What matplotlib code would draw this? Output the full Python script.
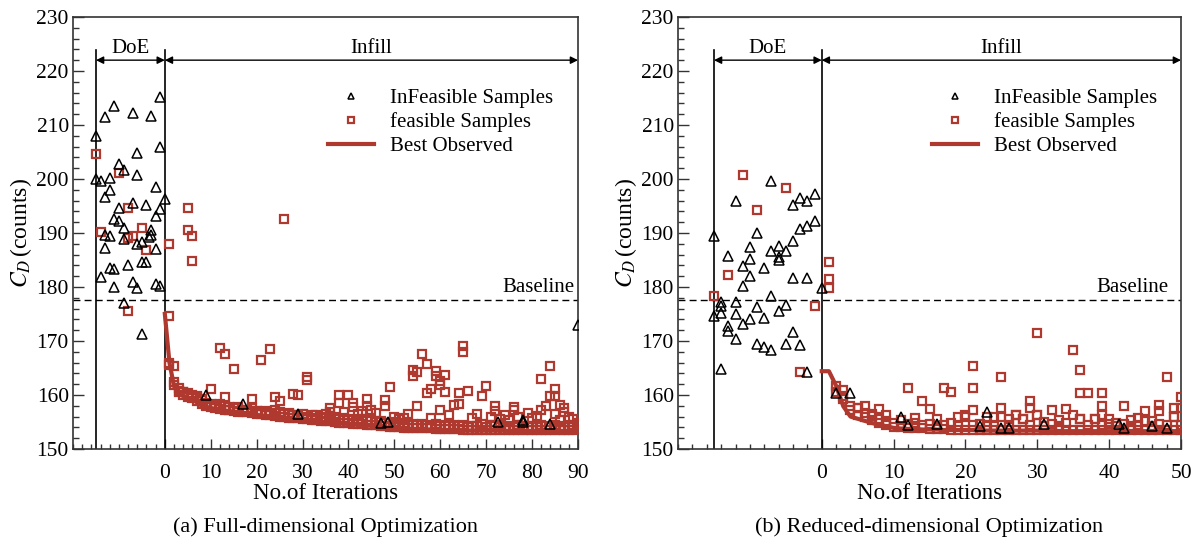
import numpy as np
import matplotlib
matplotlib.use('Agg')
import matplotlib.pyplot as plt
from matplotlib.ticker import MultipleLocator, FixedLocator

plt.rcParams['font.family'] = ['Liberation Serif', 'DejaVu Serif']
plt.rcParams['mathtext.fontset'] = 'stix'

RED = '#b0392f'

# ---------------- (a) full-dimensional ----------------
doe_inf_a_x = [-15, -1, -11, -13, -7, -3, -1, -6, -10, -9, -6, -15, -14, -12, -2, -12, -13, 0,
               -7, -4, -10, -1, -2, -11, -10, -9, -3, -13, -12, -3, -3.4, -9, -5, -6, -2, -13,
               -5, -4, -8, -12, -11, -14, -7, -2, -1, -11, -6, -9, -5]
doe_inf_a_y = [207.9, 215.2, 213.6, 211.5, 212.2, 211.7, 205.9, 204.8, 202.8, 201.6, 200.8,
               200.0, 199.7, 200.1, 198.5, 197.9, 196.7, 196.2, 195.6, 195.2, 194.6, 194.4,
               193.1, 192.6, 192.3, 190.9, 190.5, 189.7, 189.4, 189.7, 189.3, 188.8, 188.4,
               188.0, 187.1, 187.3, 184.7, 184.7, 184.1, 183.6, 183.3, 181.8, 181.0, 180.6,
               180.1, 180.0, 179.8, 177.0, 171.2]
doe_fea_a_x = [-15, -10, -8, -5, -14, -7, -8, -4, -8]
doe_fea_a_y = [204.7, 201.1, 194.6, 190.9, 190.2, 189.4, 189.0, 186.9, 175.5]

inf_a_x = [9, 17, 29, 48.5, 47, 72.5, 78, 78, 84, 90]
inf_a_y = [160.0, 158.4, 156.5, 155.0, 154.8, 155.0, 155.4, 155.0, 154.6, 172.9]

fea_a_x = [1, 5, 5, 6, 6, 26, 1, 2, 12, 13, 15, 21, 23, 10, 13, 19, 24, 25, 28, 29, 31, 31,
           38, 38, 40, 41, 41, 44, 44, 45, 46, 49, 48, 24, 36, 36, 56, 57, 54, 54, 55, 59, 59,
           61, 60, 60, 61, 58, 57, 65, 65, 64, 66, 64, 63, 48, 55, 60, 69, 70, 72, 72, 76, 76,
           79, 82, 84, 85, 85, 84, 83, 82, 86, 87, 85, 90, 90, 3, 4, 6, 7, 8, 11, 14, 20, 27,
           33, 35, 37, 39, 42, 43, 50, 51, 52, 53, 58, 62, 67, 68, 71, 73, 74, 75, 77, 80, 81,
           88, 89, 86, 87]
fea_a_y = [188.0, 194.6, 190.6, 189.4, 184.9, 192.5, 174.7, 165.4, 168.7, 167.5, 164.8, 166.4,
           168.5, 161.1, 159.7, 159.3, 159.7, 158.8, 160.2, 160.0, 163.4, 162.8, 160.0, 158.5,
           160.0, 158.5, 157.8, 159.3, 158.0, 157.2, 156.6, 161.4, 159.1, 157.3, 157.5, 156.8,
           167.6, 165.8, 164.6, 163.6, 164.2, 164.4, 163.6, 163.7, 162.6, 161.9, 160.6, 161.1,
           160.4, 169.1, 168.0, 160.4, 160.7, 158.3, 158.2, 158.0, 158.0, 157.3, 159.9, 161.7,
           158.0, 157.1, 157.8, 157.3, 156.6, 163.0, 165.3, 161.1, 159.9, 159.9, 157.9, 157.2,
           158.2, 157.5, 156.4, 154.8, 153.8, 160.8, 160.6, 159.6, 159.8, 159.2, 157.9, 157.2,
           157.0, 156.5, 156.2, 156.4, 156.0, 156.8, 156.5, 157.0, 156.0, 155.5, 155.8, 156.5,
           155.8, 156.2, 155.8, 156.5, 156.0, 155.5, 156.2, 155.3, 156.0, 155.8, 156.1, 155.9,
           155.5, 155.4, 156.8]

# feasible samples along the best-observed curve, iterations 1..90
near1_a = [166.0, 161.8, 160.5, 160.0, 159.7, 159.5, 158.8, 158.3, 158.0, 157.8,
           157.6, 157.4, 157.3, 157.2, 157.0, 156.9, 156.8, 156.8, 156.7, 156.5,
           156.4, 156.3, 156.2, 156.1, 156.0, 155.9, 155.8, 155.7, 155.7, 155.6,
           155.5, 155.4, 155.3, 155.2, 155.1, 155.1, 155.0, 154.9, 154.9, 154.8,
           154.7, 154.7, 154.6, 154.5, 154.5, 154.4, 154.3, 154.2, 154.1, 154.0,
           154.0, 153.9, 153.9, 153.9, 153.8, 153.8, 153.8, 153.8, 153.7, 153.7,
           153.7, 153.7, 153.7, 153.7, 153.6, 153.6, 153.6, 153.6, 153.6, 153.6,
           153.6, 153.6, 153.6, 153.6, 153.5, 153.5, 153.5, 153.5, 153.5, 153.5,
           153.5, 153.5, 153.5, 153.5, 153.5, 153.5, 153.5, 153.5, 153.5, 153.8]
near2_a = [165.5, 162.4, 161.2, 160.6, 160.3, 160.0, 159.6, 159.1, 158.6, 158.4,
           158.0, 158.3, 157.9, 157.7, 157.5, 157.8, 157.3, 157.2, 157.5, 157.0,
           156.9, 157.1, 156.7, 156.6, 156.9, 156.4, 156.6, 156.3, 156.2, 156.5,
           156.0, 156.2, 155.8, 155.9, 155.7, 156.1, 155.6, 155.5, 155.8, 155.4,
           155.6, 155.3, 155.5, 155.2, 155.4, 155.0, 155.2, 154.9, 154.8, 155.0,
           154.6, 154.8, 154.5, 154.7, 154.4, 154.6, 154.4, 154.3, 154.6, 154.3,
           154.5, 154.2, 154.4, 154.2, 154.5, 154.1, 154.3, 154.2, 154.6, 154.1,
           154.4, 154.2, 154.5, 154.1, 154.3, 154.0, 154.4, 154.2, 154.1, 154.3,
           154.0, 154.4, 154.2, 154.1, 154.5, 154.0, 154.3, 154.1, 154.4, 154.5]
best_a = [175.0, 166.0, 161.6, 160.2, 159.8, 159.5, 159.2, 158.6, 158.0, 157.8,
          157.6, 157.4, 157.2, 157.1, 157.0, 156.9, 156.8, 156.7, 156.6, 156.5,
          156.3, 156.2, 156.1, 156.0, 155.9, 155.8, 155.7, 155.6, 155.5, 155.5,
          155.4, 155.3, 155.2, 155.1, 155.0, 154.9, 154.9, 154.8, 154.7, 154.7,
          154.6, 154.5, 154.5, 154.4, 154.3, 154.3, 154.2, 154.1, 154.0, 153.9,
          153.8, 153.8, 153.7, 153.7, 153.7, 153.6, 153.6, 153.6, 153.6, 153.5,
          153.5, 153.5, 153.5, 153.5, 153.5, 153.4, 153.4, 153.4, 153.4, 153.4,
          153.4, 153.4, 153.4, 153.4, 153.4, 153.3, 153.3, 153.3, 153.3, 153.3,
          153.3, 153.3, 153.3, 153.3, 153.3, 153.3, 153.3, 153.3, 153.3, 153.3, 153.3]

# ---------------- (b) reduced-dimensional ----------------
doe_inf_b_x = [-15, -12, -7, -4, -3, -2, -1, -9, -3, -2, -1, -4, -10, -7, -6, -5, -6, -6,
               -13, -10, -11, -8, -10, -4, -2, -11, 0, -7, -14, -12, -14, -9, -5, -14, -6,
               -15, -12, -8, -10, -11, -13, -13, -4, -12, -9, -8, -7, -5, -3, -14, -2]
doe_inf_b_y = [189.4, 196.0, 199.6, 195.2, 196.5, 195.9, 197.3, 190.0, 190.7, 191.3, 192.3,
               188.5, 187.4, 186.6, 187.6, 186.6, 185.6, 185.0, 185.8, 185.2, 183.9, 183.6,
               182.1, 181.6, 181.6, 180.1, 179.8, 178.4, 177.3, 177.3, 176.5, 176.3, 176.6,
               175.2, 175.6, 174.6, 175.0, 174.3, 174.1, 173.2, 172.8, 171.9, 171.6, 170.4,
               169.5, 168.9, 168.4, 169.5, 169.3, 164.8, 164.2]
doe_fea_b_x = [-11, -5, -9, -13, -15, -1, -3]
doe_fea_b_y = [200.7, 198.4, 194.3, 182.3, 178.4, 176.5, 164.3]

inf_b_x = [2, 4, 11, 12, 16, 23, 22, 25, 26, 31, 41.4, 42, 46, 48]
inf_b_y = [160.4, 160.4, 155.9, 154.5, 154.7, 156.8, 154.3, 153.8, 153.8, 154.7, 154.7,
           153.8, 154.3, 153.9]

fea_b_x = [1, 1, 1, 3, 5, 6, 8, 7, 12, 14, 15, 17, 18, 21, 21, 21, 20, 25, 25, 24, 30, 35,
           36, 36, 37, 39, 39, 39, 29, 29, 32, 34, 30, 42, 45, 47, 47, 48, 49, 49, 50, 50,
           27, 28, 36, 38, 46, 23, 9, 13, 16, 19, 26, 33, 40, 43, 44, 41, 31]
fea_b_y = [184.6, 181.4, 179.8, 159.9, 157.6, 158.0, 157.4, 156.5, 161.3, 158.8, 157.4,
           161.3, 160.5, 165.3, 161.3, 157.2, 156.3, 163.3, 157.6, 155.9, 171.5, 168.3,
           164.6, 160.4, 160.4, 160.4, 157.9, 156.3, 158.8, 157.6, 157.2, 157.4, 156.2,
           157.9, 157.0, 158.2, 157.0, 163.4, 157.6, 156.0, 159.7, 157.6, 156.3, 155.5,
           155.5, 155.5, 155.2, 156.0, 156.2, 155.8, 155.5, 156.0, 155.6, 155.3, 155.5,
           155.4, 155.8, 154.8, 155.0]

# feasible samples along the best-observed curve, iterations 2..50
near1_b = [161.7, 160.9, 157.9, 156.3, 156.0, 155.4, 154.9, 154.5, 154.1, 154.0,
           153.9, 153.8, 153.8, 153.7, 153.7, 153.7, 153.6, 153.6, 153.6, 153.6,
           153.6, 153.6, 153.6, 153.6, 153.5, 153.5, 153.5, 153.5, 153.5, 153.5,
           153.5, 153.5, 153.5, 153.5, 153.5, 153.5, 153.5, 153.5, 153.5, 153.5,
           153.5, 153.5, 153.5, 153.5, 153.5, 153.5, 153.5, 153.5, 153.5]
near2_b = [160.6, 159.2, 157.2, 157.6, 156.7, 156.1, 155.6, 155.1, 154.8, 155.3,
           154.6, 154.9, 154.4, 154.7, 154.3, 154.5, 154.8, 154.2, 155.9, 154.4,
           154.6, 154.3, 154.2, 155.9, 154.5, 156.3, 155.5, 154.4, 156.2, 154.3,
           154.6, 154.2, 154.9, 156.3, 155.5, 154.5, 155.5, 154.4, 154.7, 154.3,
           154.6, 154.2, 154.5, 155.2, 154.3, 154.6, 154.4, 156.0, 154.5]
best_b = [164.4, 164.4, 161.7, 157.9, 156.0, 155.6, 155.2, 154.8, 154.5, 154.2,
          153.9, 153.8, 153.7, 153.7, 153.6, 153.6, 153.6, 153.5, 153.5, 153.5,
          153.5, 153.5, 153.4, 153.4, 153.4, 153.4, 153.4, 153.4, 153.4, 153.4,
          153.4, 153.3, 153.3, 153.3, 153.3, 153.3, 153.3, 153.3, 153.3, 153.3,
          153.3, 153.3, 153.3, 153.3, 153.3, 153.3, 153.3, 153.3, 153.3, 153.3, 153.3]

baseline = 177.5
captions = ['(a) Full-dimensional Optimization', '(b) Reduced-dimensional Optimization']


def draw(ax, n_iter, doe_ix, doe_iy, doe_fx, doe_fy, ix, iy, fx, fy, n1, n2, n_start, best,
         caption, text_x):
    tri = dict(ls='none', marker='^', mfc='none', mec='black', mew=1.1, ms=6.5, zorder=5)
    sq = dict(ls='none', marker='s', mfc='none', mec=RED, mew=1.6, ms=5.5, zorder=4)

    it = np.arange(n_start, n_iter + 1)
    line, = ax.plot(np.arange(len(best)), best, color=RED, lw=3.0, zorder=3,
                    label='Best Observed')
    ax.plot(it, n1, **sq)
    ax.plot(it, n2, **sq)
    ax.plot(fx, fy, **sq)
    hs, = ax.plot(doe_fx, doe_fy, label='feasible Samples', **sq)
    ax.plot(ix, iy, **tri)
    ht, = ax.plot(doe_ix, doe_iy, label='InFeasible Samples', **tri)

    ax.set_xlim(-20, n_iter)
    ax.set_ylim(150, 230)

    ax.axhline(baseline, color='black', lw=1.0, ls=(0, (5, 3)), zorder=2)
    ax.text(text_x, baseline + 0.6, 'Baseline', transform=ax.get_yaxis_transform(),
            ha='right', va='bottom', fontsize=15)

    # DoE / Infill markers
    ax.plot([-15, -15], [150, 223.8], color='black', lw=1.2, zorder=2)
    ax.plot([0, 0], [150, 223.8], color='black', lw=1.2, zorder=2)
    arw = dict(arrowstyle='<|-|>', color='black', lw=1.0, mutation_scale=11,
               shrinkA=0, shrinkB=0)
    ax.annotate('', xy=(-15, 222), xytext=(0, 222), arrowprops=arw)
    ax.annotate('', xy=(0, 222), xytext=(n_iter, 222), arrowprops=arw)
    ax.text(-7.5, 224.2, 'DoE', ha='center', va='center', fontsize=15)
    ax.text(n_iter / 2, 224.2, 'Infill', ha='center', va='center', fontsize=15)

    ax.xaxis.set_major_locator(FixedLocator(np.arange(0, n_iter + 1, 10)))
    ax.xaxis.set_minor_locator(MultipleLocator(2))
    ax.yaxis.set_major_locator(MultipleLocator(10))
    ax.yaxis.set_minor_locator(MultipleLocator(2))
    ax.tick_params(which='both', direction='in', top=False, right=False,
                   color='#333333', labelsize=15.5)
    ax.tick_params(axis='x', which='major', length=7, width=1.0, pad=11)
    ax.tick_params(axis='x', which='minor', length=3.5, width=1.0)
    ax.tick_params(axis='y', which='major', length=8, width=1.0, pad=3)
    ax.tick_params(axis='y', which='minor', length=4.5, width=1.0)
    for s in ax.spines.values():
        s.set_color('#333333')
        s.set_linewidth(1.2)

    ax.set_xlabel('No.of Iterations', fontsize=16.5, labelpad=0)
    ax.set_ylabel(r'$C_D\,$(counts)', fontsize=17)
    ax.yaxis.set_label_coords(-0.078, 0.5)

    ax.legend(handles=[ht, hs, line], loc='upper left', bbox_to_anchor=(0.488, 0.853),
              frameon=False, fontsize=15, markerscale=0.75, handlelength=2.2,
              handletextpad=0.8, labelspacing=0.2, borderaxespad=0)

    pos = ax.get_position()
    ax.figure.text(pos.x0 + pos.width / 2, 0.036, caption, ha='center', va='center',
                   fontsize=16)


fig = plt.figure(figsize=(11.99, 5.47), dpi=100)
ax1 = fig.add_axes([0.0609, 0.1792, 0.4212, 0.7898])
ax2 = fig.add_axes([0.5655, 0.1792, 0.4195, 0.7898])

draw(ax1, 90, doe_inf_a_x, doe_inf_a_y, doe_fea_a_x, doe_fea_a_y, inf_a_x, inf_a_y,
     fea_a_x, fea_a_y, near1_a, near2_a, 1, best_a, captions[0], 0.993)
draw(ax2, 50, doe_inf_b_x, doe_inf_b_y, doe_fea_b_x, doe_fea_b_y, inf_b_x, inf_b_y,
     fea_b_x, fea_b_y, near1_b, near2_b, 2, best_b, captions[1], 0.975)

fig.savefig('out.png', dpi=100)
